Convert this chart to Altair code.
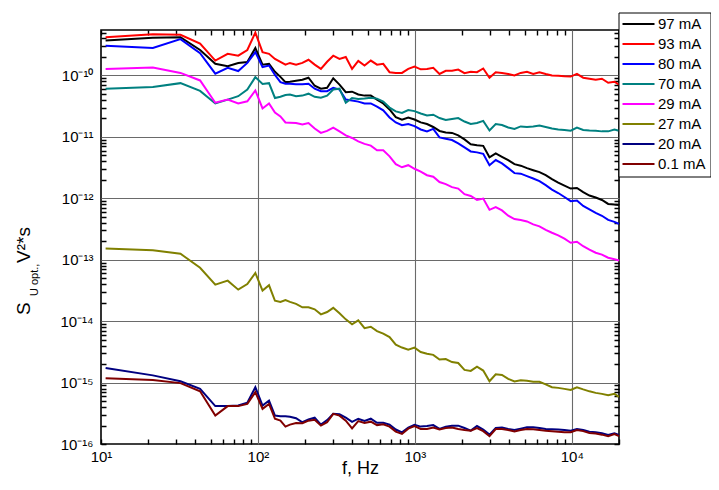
import math
import altair as alt
import pandas as pd

freq = [10.7, 21.4, 32.1, 42.8, 53.5, 64.2, 74.9, 85.6, 96.3, 107, 117.7, 128.4, 139.1, 149.8,
        160, 175, 192, 210, 230, 252, 276, 302, 331, 363,
        398, 436, 478, 524, 574, 629, 690, 756, 828, 908,
        995, 1090, 1195, 1310, 1436, 1574, 1725, 1890, 2072, 2271,
        2489, 2728, 2990, 3277, 3591, 3936, 4314, 4728, 5182, 5680,
        6225, 6823, 7478, 8196, 8983, 9845, 10790, 11826, 12961, 14205,
        15569, 17063, 18700, 20000]

s97 = [3.7e-10, 4.1e-10, 4.2e-10, 2.6e-10, 1.55e-10, 1.42e-10, 1.6e-10, 1.65e-10, 2.8e-10, 1.5e-10, 1.55e-10, 1.15e-10, 9.5e-11, 7.8e-11,
       7.9e-11, 8.2e-11, 8.5e-11, 9.2e-11, 6.8e-11, 6.1e-11, 6.3e-11, 9.0e-11, 7.1e-11, 5.35e-11,
       5.45e-11, 4.9e-11, 4.7e-11, 4.7e-11, 4.05e-11, 3.5e-11, 2.8e-11, 2.1e-11, 1.9e-11, 2.07e-11,
       1.92e-11, 1.72e-11, 1.62e-11, 1.45e-11, 1.25e-11, 1.18e-11, 1.16e-11, 1.06e-11, 9.1e-12, 7.6e-12,
       7.3e-12, 7.15e-12, 4.66e-12, 5.4e-12, 4.75e-12, 4.17e-12, 3.6e-12, 3.4e-12, 3.1e-12, 2.87e-12,
       2.67e-12, 2.38e-12, 2.05e-12, 1.8e-12, 1.61e-12, 1.44e-12, 1.47e-12, 1.26e-12, 1.11e-12, 1.03e-12,
       9.4e-13, 8.1e-13, 7.9e-13, 7.8e-13]
s93 = [4.2e-10, 4.7e-10, 4.6e-10, 3.3e-10, 1.75e-10, 2.25e-10, 2.1e-10, 2.6e-10, 5.0e-10, 2.4e-10, 2.25e-10, 1.86e-10, 1.67e-10, 1.5e-10,
       1.6e-10, 1.5e-10, 1.6e-10, 1.8e-10, 1.5e-10, 1.28e-10, 1.67e-10, 2.1e-10, 1.86e-10, 2.0e-10,
       1.28e-10, 1.73e-10, 1.45e-10, 1.75e-10, 1.5e-10, 1.55e-10, 1.13e-10, 1.1e-10, 1.1e-10, 1.28e-10,
       1.4e-10, 1.26e-10, 1.28e-10, 1.33e-10, 1.06e-10, 1.19e-10, 1.19e-10, 1.25e-10, 1.09e-10, 1.15e-10,
       1.13e-10, 1.3e-10, 9.2e-11, 1.13e-10, 1.1e-10, 1.06e-10, 1.0e-10, 1.1e-10, 1.15e-10, 1.06e-10,
       1.13e-10, 1.06e-10, 1.0e-10, 9.9e-11, 9.7e-11, 9.6e-11, 1.06e-10, 9.2e-11, 8.85e-11, 8.5e-11,
       8.85e-11, 7.6e-11, 7.9e-11, 7.1e-11]
s80 = [3.05e-10, 2.8e-10, 3.9e-10, 2.3e-10, 1.07e-10, 1.33e-10, 1.18e-10, 1.6e-10, 2.4e-10, 1.37e-10, 1.45e-10, 1.02e-10, 7.8e-11, 7.35e-11,
       7.3e-11, 7.2e-11, 7.2e-11, 7.35e-11, 6.1e-11, 5.55e-11, 5.55e-11, 6.3e-11, 5.9e-11, 4.05e-11,
       3.9e-11, 3.75e-11, 3.5e-11, 3.5e-11, 3.1e-11, 2.7e-11, 2.07e-11, 1.72e-11, 1.55e-11, 1.62e-11,
       1.5e-11, 1.32e-11, 1.23e-11, 1.35e-11, 9.8e-12, 9.3e-12, 8.9e-12, 7.85e-12, 6.75e-12, 5.8e-12,
       5.6e-12, 5.3e-12, 3.46e-12, 4.2e-12, 3.7e-12, 3.1e-12, 2.57e-12, 2.52e-12, 2.3e-12, 2.1e-12,
       1.9e-12, 1.64e-12, 1.39e-12, 1.22e-12, 1.05e-12, 9.0e-13, 9.2e-13, 7.5e-13, 6.6e-13, 5.8e-13,
       5.2e-13, 4.45e-13, 4.14e-13, 3.84e-13]
s70 = [6.1e-11, 6.5e-11, 7.5e-11, 5.6e-11, 3.5e-11, 4.05e-11, 4.6e-11, 5.9e-11, 9.4e-11, 7.3e-11, 7.5e-11, 4.3e-11, 4.5e-11, 4.8e-11,
       4.9e-11, 4.6e-11, 4.7e-11, 5.05e-11, 4.5e-11, 4.35e-11, 4.7e-11, 5.9e-11, 6.1e-11, 3.6e-11,
       4.3e-11, 4.15e-11, 4.2e-11, 4.35e-11, 4.2e-11, 3.75e-11, 3.0e-11, 2.6e-11, 2.45e-11, 2.73e-11,
       2.63e-11, 2.4e-11, 2.23e-11, 2.3e-11, 2.03e-11, 1.88e-11, 1.95e-11, 2.03e-11, 1.78e-11, 1.62e-11,
       1.68e-11, 1.82e-11, 1.27e-11, 1.62e-11, 1.56e-11, 1.42e-11, 1.35e-11, 1.48e-11, 1.45e-11, 1.48e-11,
       1.53e-11, 1.45e-11, 1.37e-11, 1.32e-11, 1.3e-11, 1.26e-11, 1.42e-11, 1.3e-11, 1.27e-11, 1.26e-11,
       1.23e-11, 1.23e-11, 1.32e-11, 1.26e-11]
s29 = [1.28e-10, 1.35e-10, 1.1e-10, 8.3e-11, 3.6e-11, 4.05e-11, 3.5e-11, 3.8e-11, 5.7e-11, 2.9e-11, 3.5e-11, 2.5e-11, 2.15e-11, 1.72e-11,
       1.7e-11, 1.68e-11, 1.59e-11, 1.68e-11, 1.37e-11, 1.16e-11, 1.25e-11, 1.42e-11, 1.23e-11, 1.06e-11,
       9.6e-12, 8.45e-12, 7.7e-12, 7.2e-12, 6.05e-12, 6.05e-12, 4.83e-12, 3.6e-12, 3.2e-12, 3.46e-12,
       3.03e-12, 2.72e-12, 2.38e-12, 2.25e-12, 1.84e-12, 1.7e-12, 1.52e-12, 1.44e-12, 1.17e-12, 1.09e-12,
       9.4e-13, 9.9e-13, 6.5e-13, 7.2e-13, 6.35e-13, 5.2e-13, 4.6e-13, 4.45e-13, 4.2e-13, 3.77e-13,
       3.5e-13, 3.07e-13, 2.75e-13, 2.5e-13, 2.2e-13, 1.89e-13, 1.96e-13, 1.66e-13, 1.46e-13, 1.3e-13,
       1.21e-13, 1.08e-13, 1.02e-13, 9.7e-14]
s27 = [1.52e-13, 1.43e-13, 1.25e-13, 7.4e-14, 3.94e-14, 4.57e-14, 3.26e-14, 4.03e-14, 6.1e-14, 3.14e-14, 3.84e-14, 2.15e-14, 2.05e-14, 2.21e-14,
       2.06e-14, 1.91e-14, 1.68e-14, 1.68e-14, 1.56e-14, 1.29e-14, 1.41e-14, 1.65e-14, 1.34e-14, 1.07e-14,
       8.9e-15, 1.03e-14, 7.7e-15, 8.1e-15, 6.9e-15, 6.25e-15, 5.5e-15, 4.15e-15, 3.72e-15, 3.44e-15,
       3.71e-15, 3.14e-15, 2.94e-15, 2.83e-15, 2.37e-15, 2.42e-15, 2.16e-15, 2.08e-15, 1.61e-15, 1.55e-15,
       1.82e-15, 1.57e-15, 1.05e-15, 1.36e-15, 1.33e-15, 1.15e-15, 1.04e-15, 1.09e-15, 1.07e-15, 1.03e-15,
       1.03e-15, 9.35e-16, 8.4e-16, 8.2e-16, 7.9e-16, 7.6e-16, 8.4e-16, 7.75e-16, 7.2e-16, 6.8e-16,
       6.55e-16, 6.2e-16, 6.55e-16, 5.87e-16]
s20 = [1.72e-15, 1.31e-15, 1.05e-15, 7.9e-16, 4.14e-16, 4.14e-16, 4.23e-16, 4.7e-16, 8.4e-16, 4.23e-16, 5.1e-16, 2.9e-16, 2.84e-16, 2.84e-16,
       2.78e-16, 2.63e-16, 2.26e-16, 2.5e-16, 2.68e-16, 2.07e-16, 2.45e-16, 3.1e-16, 3.04e-16, 2.68e-16,
       2.29e-16, 2.58e-16, 2.38e-16, 2.58e-16, 2.22e-16, 2.22e-16, 2.07e-16, 1.72e-16, 1.55e-16, 1.85e-16,
       2.05e-16, 1.92e-16, 1.96e-16, 2.03e-16, 1.76e-16, 1.92e-16, 1.99e-16, 1.99e-16, 1.82e-16, 1.65e-16,
       1.96e-16, 1.72e-16, 1.42e-16, 1.82e-16, 1.85e-16, 1.75e-16, 1.69e-16, 1.78e-16, 1.87e-16, 1.87e-16,
       1.82e-16, 1.76e-16, 1.74e-16, 1.72e-16, 1.69e-16, 1.65e-16, 1.75e-16, 1.69e-16, 1.59e-16, 1.56e-16,
       1.5e-16, 1.4e-16, 1.5e-16, 1.4e-16]
s01 = [1.18e-15, 1.1e-15, 9.8e-16, 7.2e-16, 2.9e-16, 4.14e-16, 4.14e-16, 4.5e-16, 7.0e-16, 3.74e-16, 4.5e-16, 2.57e-16, 2.4e-16, 1.92e-16,
       2.07e-16, 2.2e-16, 2.18e-16, 2.4e-16, 2.48e-16, 1.99e-16, 2.26e-16, 3.1e-16, 2.9e-16, 2.4e-16,
       1.8e-16, 2.36e-16, 2.2e-16, 2.31e-16, 2.03e-16, 2.1e-16, 1.92e-16, 1.59e-16, 1.46e-16, 1.78e-16,
       1.96e-16, 1.76e-16, 1.75e-16, 1.85e-16, 1.72e-16, 1.82e-16, 1.85e-16, 1.76e-16, 1.69e-16, 1.65e-16,
       1.82e-16, 1.62e-16, 1.34e-16, 1.75e-16, 1.75e-16, 1.69e-16, 1.6e-16, 1.69e-16, 1.76e-16, 1.74e-16,
       1.69e-16, 1.65e-16, 1.62e-16, 1.59e-16, 1.56e-16, 1.55e-16, 1.69e-16, 1.62e-16, 1.51e-16, 1.48e-16,
       1.42e-16, 1.34e-16, 1.45e-16, 1.34e-16]

series_names = ["97 mA", "93 mA", "80 mA", "70 mA", "29 mA", "27 mA", "20 mA", "0.1 mA"]
series_values = [s97, s93, s80, s70, s29, s27, s20, s01]
series_colors = ["#000000", "#ff0000", "#0000ff", "#008080", "#ff00ff", "#808000", "#000080", "#800000"]

x_major = [10, 100, 1000, 10000]
x_major_labels = ["10¹", "10²", "10³", "10⁴"]
y_major = [1e-16, 1e-15, 1e-14, 1e-13, 1e-12, 1e-11, 1e-10]
y_major_labels = ["10⁻¹⁶", "10⁻¹⁵", "10⁻¹⁴", "10⁻¹³", "10⁻¹²", "10⁻¹¹", "10⁻¹⁰"]

rows = []
for name, vals in zip(series_names, series_values):
    assert len(vals) == len(freq)
    for f, v in zip(freq, vals):
        rows.append({"f": f, "S": v, "series": name})
df = pd.DataFrame(rows)

x_ticks = [k * m for m in x_major for k in range(1, 10) if k * m <= 20000]
y_ticks = [k * m for m in y_major for k in range(1, 10) if k * m <= 5.5e-10]

L = "(log(datum.value)/LN10)"
is_major = f"abs({L} - round({L})) < 0.001"


def label_expr(majors, labels):
    e = "''"
    for m, lab in reversed(list(zip(majors, labels))):
        exp = round(math.log10(m))
        e = f"(round({L}) == {exp} ? '{lab}' : {e})"
    return f"{is_major} ? {e} : ''"


W, H = 518, 414

x_axis = alt.Axis(
    values=x_ticks, labelExpr=label_expr(x_major, x_major_labels), title="f, Hz",
    ticks=False, domain=False, grid=True,
    gridColor={"condition": {"test": f"{is_major} && datum.value > 11", "value": "#6a6a6a"}, "value": "black"},
    gridDash={"condition": {"test": f"{is_major} && datum.value > 11", "value": []}, "value": [5, H - 10, 5, 2000]},
    gridWidth={"condition": {"test": f"{is_major} && datum.value > 11", "value": 1.1}, "value": 1.4},
    gridOpacity=1, labelFontSize=15, labelPadding=5, labelColor="black", labelFlush=False,
    titleFontSize=18, titleFontWeight="normal", titleColor="black", titlePadding=-5,
)
y_axis = alt.Axis(
    values=y_ticks, labelExpr=label_expr(y_major, y_major_labels), title=None,
    ticks=False, domain=False, grid=True,
    gridColor={"condition": {"test": f"{is_major} && datum.value > 1.1e-16", "value": "#6a6a6a"}, "value": "black"},
    gridDash={"condition": {"test": f"{is_major} && datum.value > 1.1e-16", "value": []}, "value": [5, W - 10, 5, 2000]},
    gridWidth={"condition": {"test": f"{is_major} && datum.value > 1.1e-16", "value": 1.1}, "value": 1.4},
    gridOpacity=1, labelFontSize=15, labelPadding=8, labelColor="black", labelFlush=False,
)

legend = alt.Legend(
    title=None, orient="none", legendX=517.5, legendY=-17.5,
    symbolType="M-3.2,0H3.2", symbolSize=100, symbolStrokeWidth=2,
    labelFontSize=15, labelColor="black", labelOffset=12, symbolOffset=8.5,
    padding=4, rowPadding=4, strokeColor="black", fillColor="white",
)

lines = alt.Chart(df).mark_line(strokeWidth=2).encode(
    x=alt.X("f:Q", scale=alt.Scale(type="log", domain=[10, 20000], nice=False), axis=x_axis),
    y=alt.Y("S:Q", scale=alt.Scale(type="log", domain=[1e-16, 5.5e-10], nice=False), axis=y_axis),
    color=alt.Color("series:N", scale=alt.Scale(domain=series_names, range=series_colors),
                    sort=series_names, legend=legend),
)

title_parts = [("S", 19, -70.8, 285), ("U opt.,", 11, -63.5, 266), ("V²*s", 19, -70.8, 233)]
texts = []
for t, fs, px, py in title_parts:
    texts.append(
        alt.Chart(pd.DataFrame({"t": [t]})).mark_text(
            angle=270, align="left", baseline="alphabetic", fontSize=fs, color="black"
        ).encode(x=alt.value(px), y=alt.value(py), text="t:N")
    )

chart = alt.layer(lines, *texts).properties(
    width=W, height=H,
    autosize=alt.AutoSizeParams(type="none"),
    padding={"left": 93, "top": 22, "right": 92, "bottom": 33},
).configure(font="Liberation Sans").configure_view(stroke="black", strokeWidth=1.6)

chart.save("out.html", embed_options={"renderer": "svg", "actions": False})
